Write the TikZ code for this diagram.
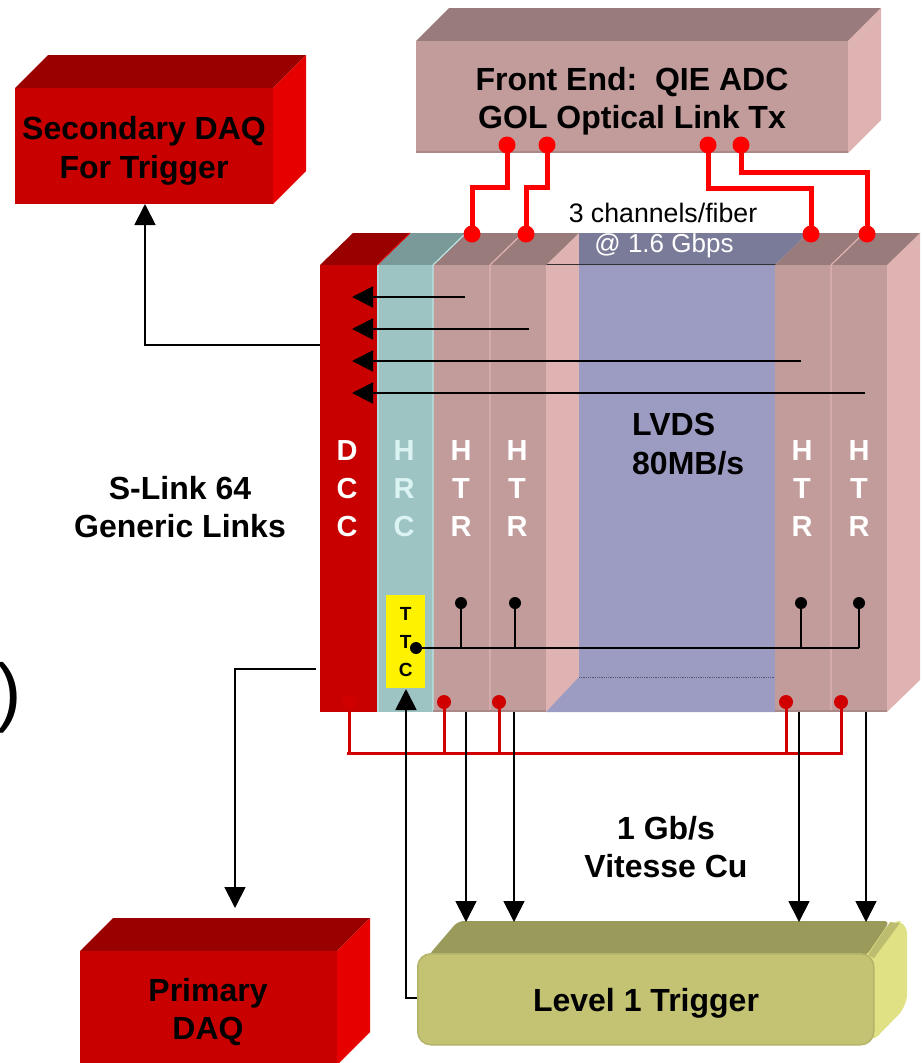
\documentclass[tikz,border=0pt]{standalone}
\usepackage{fontspec}
\setmainfont{Liberation Sans}
\usetikzlibrary{arrows.meta}

\definecolor{feFront}{HTML}{C29B9B}
\definecolor{feTop}{HTML}{9A7B7B}
\definecolor{feSide}{HTML}{E0B3B3}
\definecolor{daqFront}{HTML}{C80000}
\definecolor{daqTop}{HTML}{990000}
\definecolor{daqSide}{HTML}{E60000}
\definecolor{hrcFront}{HTML}{9EC3C3}
\definecolor{hrcTop}{HTML}{7A9999}
\definecolor{hrcEdge}{HTML}{B8E6E6}
\definecolor{lvdsFront}{HTML}{9C9CC3}
\definecolor{lvdsTop}{HTML}{7A7A99}
\definecolor{trigFront}{HTML}{C3C373}
\definecolor{trigTop}{HTML}{9A9A5A}
\definecolor{trigSide}{HTML}{E0E085}
\definecolor{busRed}{HTML}{D00000}

\tikzset{
	face/.style={inner sep=0pt, anchor=north west},
	caption/.style={inner sep=0pt, align=center, font=\fontsize{32}{38.5}\selectfont\bfseries},
	slot/.style={inner sep=0pt, align=center, text=white, font=\fontsize{29}{38}\selectfont\bfseries},
	smalltext/.style={inner sep=0pt, font=\fontsize{26.7}{32}\selectfont},
	fibre/.style={draw=red, line width=5pt},
	bus/.style={draw=busRed, line width=3pt},
	signal/.style={draw=black, line width=1.8pt},
	feed/.style={signal, -{Triangle[length=21pt,width=21pt]}},
	fibredot/.style={circle, fill=red, inner sep=0pt, minimum size=17pt},
	busdot/.style={circle, fill=busRed, inner sep=0pt, minimum size=14pt},
	ttcdot/.style={circle, fill=black, inner sep=0pt, minimum size=12pt},
}

% name, left, top, right, bottom, depth, front, top face, side face
\newcommand{\pbox}[9]{
	\pgfmathsetmacro{\PBw}{#4-#2}
	\pgfmathsetmacro{\PBh}{#5-#3}
	\pgfmathsetmacro{\PBxb}{#4+#6}
	\pgfmathsetmacro{\PByb}{#3-#6}
	\pgfmathsetmacro{\PByc}{#5-#6}
	\pgfmathsetmacro{\PBxc}{#2+#6}
	\fill[#8] (#2,#3) -- (\PBxc,\PByb) -- (\PBxb,\PByb) -- (#4,#3) -- cycle;
	\fill[#9] (#4,#3) -- (\PBxb,\PByb) -- (\PBxb,\PByc) -- (#4,#5) -- cycle;
	\node[face, fill=#7, minimum width=\PBw pt, minimum height=\PBh pt] (#1) at (#2,#3) {};
}

% one slice of the crate: name, left, right, front, top face
\newcommand{\pslice}[5]{
	\pgfmathsetmacro{\PSw}{#3-#2}
	\pgfmathsetmacro{\PSxa}{#2+33}
	\pgfmathsetmacro{\PSxb}{#3+33}
	\fill[#5] (#2,265) -- (\PSxa,233) -- (\PSxb,233) -- (#3,265) -- cycle;
	\node[face, fill=#4, minimum width=\PSw pt, minimum height=447pt] (#1) at (#2,265) {};
}

\begin{document}
\begin{tikzpicture}[x=1pt, y=-1pt]
\useasboundingbox (0,0) rectangle (923,1063);

\node[inner sep=0pt, font=\fontsize{76}{76}\selectfont] (paren) at (9,698) {)};

\pbox{fe}{416}{41}{848}{153}{33}{feFront}{feTop}{feSide}
\pbox{sec}{15}{88}{273}{204}{33}{daqFront}{daqTop}{daqSide}
\pbox{pri}{80}{951}{337}{1065}{33}{daqFront}{daqTop}{daqSide}
\draw[feFront!88!black, line width=2.5pt] (416,152) -- (848,152);

% trigger has rounded edges
\fill[trigSide, rounded corners=12pt] (862,953) -- (892,921) -- (907,921) -- (907,1006) -- (870,1044) -- cycle;
\fill[trigTop!50!trigSide] (868,955) -- (890,922) -- (900,923) -- (874,958) -- cycle;
\fill[trigTop, rounded corners=6pt] (428,956) -- (458,921) -- (890,921) -- (866,956) -- cycle;
\node[face, fill=trigFront, draw=trigFront!92!black, line width=1.5pt, rounded corners=13pt, minimum width=456pt, minimum height=91pt] (trig) at (417,953) {};

% back of the crate
\fill[feSide] (546,265) -- (579,233) -- (579,680) -- (546,712) -- cycle;
\fill[lvdsFront] (579,265) rectangle (775,677);
\fill[lvdsTop] (579,233) -- (808,233) -- (775,265) -- (579,265) -- cycle;
\fill[lvdsFront] (579,677) -- (775,677) -- (775,712) -- (546,712) -- cycle;
\fill[feSide] (887,265) -- (920,233) -- (920,680) -- (887,712) -- cycle;
\draw[lvdsTop!70!black, densely dotted, line width=0.8pt] (579,677) -- (775,677);
\draw[black!80, line width=1pt] (546,264.5) -- (777,264.5);

\pslice{dcc}{320}{377}{daqFront}{daqTop}
\pslice{hrc}{377}{433}{hrcFront}{hrcTop}
\pslice{htrA}{433}{490}{feFront}{feTop}
\pslice{htrB}{490}{546}{feFront}{feTop}
\pslice{htrC}{775}{831}{feFront}{feTop}
\pslice{htrD}{831}{887}{feFront}{feTop}

\draw[hrcEdge, line width=1.2pt] (378,265) -- (378,712) (433,265) -- (433,712) (433,265) -- (466,233);
\draw[feSide, line width=1.2pt] (490,265) -- (490,712) (490,265) -- (523,233);
\draw[feSide, line width=1.2pt] (831,265) -- (831,712) (831,265) -- (864,233);
\draw[daqSide, line width=1pt] (377,265) -- (410,233);
\draw[feFront!88!black, line width=2pt] (433,711) -- (546,711) (775,711) -- (887,711);

\node[caption] (feText) at (632,101) {Front End:\ \ QIE ADC\\GOL Optical Link Tx};
\node[caption] (secText) at (144,151) {Secondary DAQ\\For Trigger};
\node[caption] (priText) at (208,1012) {Primary\\DAQ};
\node[caption] (trigText) at (646,1003) {Level 1 Trigger};

\node[slot] (dccText) at (347,489) {D\\C\\C};
\node[slot, text=hrcEdge!50!white] (hrcText) at (404,489) {H\\R\\C};
\node[slot] (htrAText) at (461,489) {H\\T\\R};
\node[slot] (htrBText) at (517,489) {H\\T\\R};
\node[slot] (htrCText) at (802,489) {H\\T\\R};
\node[slot] (htrDText) at (859,489) {H\\T\\R};

\node[smalltext] (rateA) at (663,213) {3 channels/fiber};
\node[smalltext, text=white, font=\fontsize{26}{32}\selectfont] (rateB) at (664,246) {@ 1.6 Gbps};
\node[caption, align=left, anchor=north west] (lvds) at (632,413) {LVDS\\80MB/s};
\node[caption] (slink) at (180,507) {S-Link 64\\Generic Links};
\node[caption] (vitesse) at (666,847) {1 Gb/s\\Vitesse Cu};

% optical fibres
\node[fibredot] (feA) at (507,145) {};
\node[fibredot] (feB) at (547,145) {};
\node[fibredot] (feC) at (708,145) {};
\node[fibredot] (feD) at (741,145) {};
\node[fibredot] (topA) at (472,234) {};
\node[fibredot] (topB) at (526,234) {};
\node[fibredot] (topC) at (811,234) {};
\node[fibredot] (topD) at (867,234) {};
\draw[fibre] (feA.center) -- ++(0,42) -| (topA.center);
\draw[fibre] (feB.center) -- ++(0,42) -| (topB.center);
\draw[fibre] (feC.center) -- ++(0,43) -| (topC.center);
\draw[fibre] (feD.center) -- ++(0,27) -| (topD.center);

% into the DCC
\coordinate (inA) at (352,297);
\coordinate (inB) at (352,329);
\coordinate (inC) at (352,361);
\coordinate (inD) at (352,393);
\coordinate (fromA) at (465,297);
\coordinate (fromB) at (529,329);
\coordinate (fromC) at (801,361);
\coordinate (fromD) at (865,393);
\draw[feed] (fromA) -- (inA);
\draw[feed] (fromB) -- (inB);
\draw[feed] (fromC) -- (inC);
\draw[feed] (fromD) -- (inD);

% out of the DCC
\coordinate (secOut) at (320,345);
\coordinate (priOut) at (316,669);
\coordinate (secIn) at (145,204);
\coordinate (priIn) at (235,908);
\draw[feed] (secOut) -| (secIn);
\draw[feed] (priOut) -| (priIn);

% TTC
\node[fill=yellow, inner sep=0pt, anchor=north west, minimum width=39pt, minimum height=93pt, align=center, font=\fontsize{19}{28}\selectfont\bfseries] (ttc) at (386,595) {T\\T\\C};
\node[ttcdot] (ttcHub) at (416,648) {};
\node[ttcdot] (ttcA) at (461,603) {};
\node[ttcdot] (ttcB) at (515,603) {};
\node[ttcdot] (ttcC) at (801,603) {};
\node[ttcdot] (ttcD) at (859,603) {};
\draw[signal, line width=2.2pt] (ttcHub.center) -- (ttcD.center |- ttcHub.center);
\draw[signal] (ttcA.center) -- (ttcA.center |- ttcHub.center);
\draw[signal] (ttcB.center) -- (ttcB.center |- ttcHub.center);
\draw[signal] (ttcC.center) -- (ttcC.center |- ttcHub.center);
\draw[signal] (ttcD.center) -- (ttcD.center |- ttcHub.center);

% red bus below the crate
\coordinate (busL) at (347,753);
\coordinate (busR) at (843,753);
\node[busdot] (pinD) at (349,702) {};
\node[busdot] (pinA) at (444,702) {};
\node[busdot] (pinB) at (499,702) {};
\node[busdot] (pinC) at (786,702) {};
\node[busdot] (pinE) at (841,702) {};
\draw[bus] (busL) -- (busR);
\draw[bus] (pinD.center) -- (pinD.center |- busL);
\draw[bus] (pinA.center) -- (pinA.center |- busL);
\draw[bus] (pinB.center) -- (pinB.center |- busL);
\draw[bus] (pinC.center) -- (pinC.center |- busL);
\draw[bus] (pinE.center) -- (pinE.center |- busL);

% down to the trigger
\coordinate (downA) at (466,712);
\coordinate (downB) at (514,712);
\coordinate (downC) at (799,712);
\coordinate (downD) at (866,712);
\coordinate (trigTopEdge) at (600,922);
\draw[feed] (downA) -- (downA |- trigTopEdge);
\draw[feed] (downB) -- (downB |- trigTopEdge);
\draw[feed] (downC) -- (downC |- trigTopEdge);
\draw[feed] (downD) -- (downD |- trigTopEdge);

% trigger back to the TTC
\coordinate (ttcIn) at (406,689);
\draw[feed] (trig.west |- 0,998) -| (ttcIn);
\end{tikzpicture}
\end{document}
